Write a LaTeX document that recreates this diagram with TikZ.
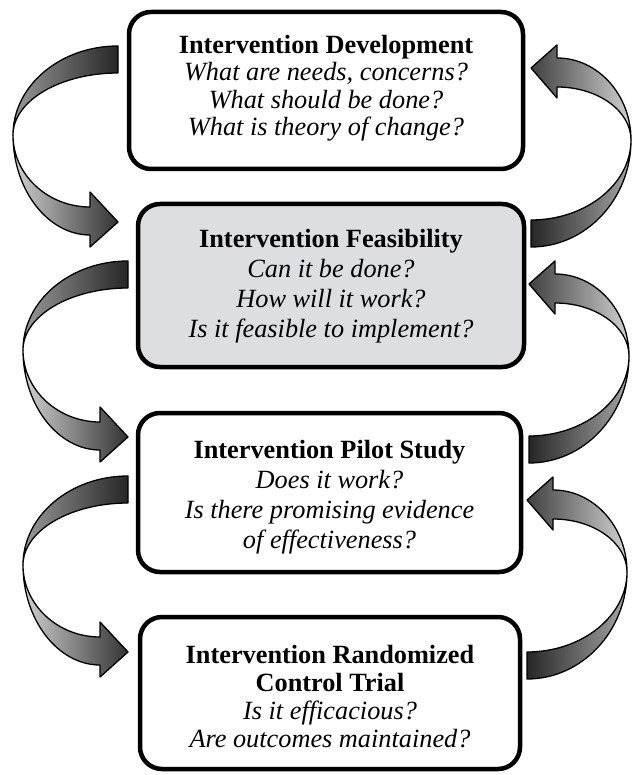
\documentclass[tikz,border=0pt]{standalone}
\usepackage{fontspec}
\setmainfont{Liberation Serif}
\definecolor{boxgray}{RGB}{221,222,225}
\tikzset{
  box/.style={draw=black, line width=4.5, rounded corners=22, inner sep=0},
  txt/.style={align=center, inner sep=0, anchor=north, font=\fontsize{26.3}{#1}\selectfont},
  arrline/.style={draw=black, line width=1.3, line join=round},
}
% left curved arrow, tip at (#1,#2), pointing right
\newcommand{\LeftCurveArrow}[2]{%
  \begin{scope}[shift={(#1,#2)}]
    \path[arrline, left color=black!40, right color=black!85]
      (0,-176) .. controls (-58,-176) and (-105,-136) .. (-105,-87)
      .. controls (-105,-121) and (-58,-149) .. (0,-149) -- cycle;
    \path[arrline, left color=black!18, right color=black!80]
      (-105,-87) .. controls (-105,-32) and (-70,13) .. (-28,13)
      -- (-28,25) -- (0,0) -- (-28,-30) -- (-28,-15)
      .. controls (-70,-15) and (-105,-47) .. (-105,-87) -- cycle;
  \end{scope}}
% right curved arrow, tip at (#1,#2), pointing left
\newcommand{\RightCurveArrow}[2]{%
  \begin{scope}[shift={(#1,#2)}]
    \path[arrline, left color=black!75, right color=black!18]
      (0,0) -- (26,-23) -- (26,-10)
      .. controls (67,-10) and (100,27) .. (100,72)
      .. controls (100,43) and (67,19) .. (26,19)
      -- (26,30) -- cycle;
    \path[arrline, left color=black!85, right color=black!35]
      (100,72) .. controls (100,131) and (55,179) .. (0,179)
      -- (0,152) .. controls (55,152) and (100,116) .. (100,72) -- cycle;
  \end{scope}}
\begin{document}
\begin{tikzpicture}[x=1pt, y=-1pt]
  \useasboundingbox (0,0) rectangle (631,775);
  \fill[white] (0,0) rectangle (631,775);

  % boxes
  \node[box, fill=white, minimum width=394, minimum height=157] (b1) at (326,90.5) {};
  \node[box, fill=boxgray, minimum width=386, minimum height=163] (b2) at (331,285.5) {};
  \node[box, fill=white, minimum width=383, minimum height=159] (b3) at (329.5,492.5) {};
  \node[box, fill=white, minimum width=380, minimum height=152] (b4) at (330,693) {};

  % texts
  \node[txt=27.3] (t1) at (326,35.2) {\textbf{Intervention Development}\\
    \textit{What are needs, concerns?}\\
    \textit{What should be done?}\\
    \textit{What is theory of change?}};
  \node[txt=30] (t2) at (331,229.2) {\textbf{Intervention Feasibility}\\
    \textit{Can it be done?}\\
    \textit{How will it work?}\\
    \textit{Is it feasible to implement?}};
  \node[txt=30] (t3) at (329.5,440.2) {\textbf{Intervention Pilot Study}\\
    \textit{Does it work?}\\
    \textit{Is there promising evidence}\\
    \textit{of effectiveness?}};
  \node[txt=28] (t4) at (330,645.2) {\textbf{Intervention Randomized}\\
    \textbf{Control Trial}\\
    \textit{Is it efficacious?}\\
    \textit{Are outcomes maintained?}};

  % curved arrows
  \LeftCurveArrow{118}{222}
  \LeftCurveArrow{128}{437}
  \LeftCurveArrow{128}{652}
  \RightCurveArrow{531}{68}
  \RightCurveArrow{529}{284}
  \RightCurveArrow{527}{500}
\end{tikzpicture}
\end{document}
